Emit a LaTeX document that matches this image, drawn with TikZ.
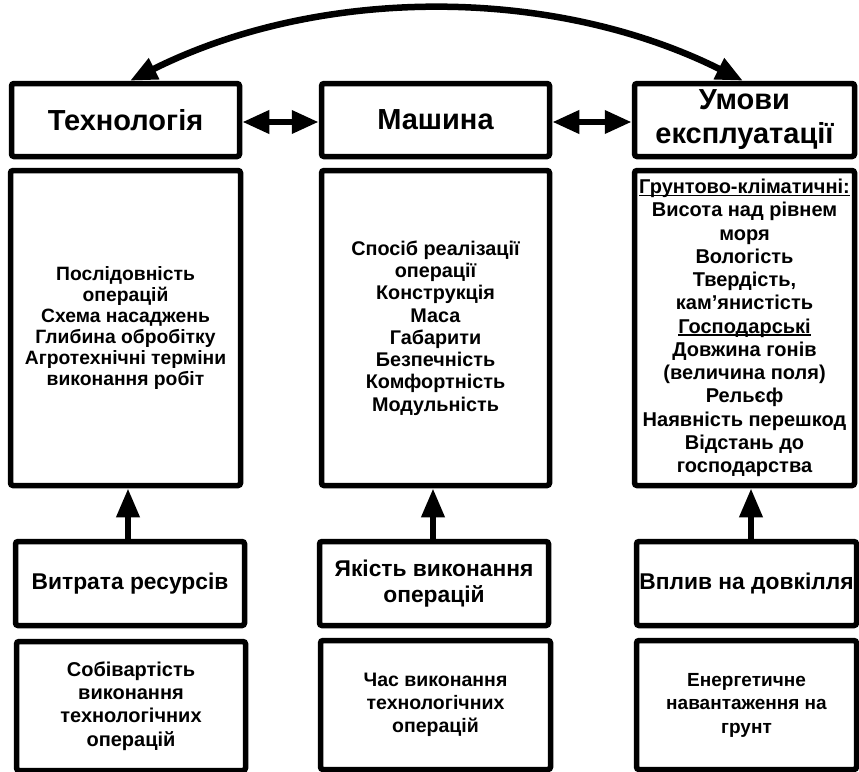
\documentclass[tikz,border=0pt]{standalone}
\usepackage{fontspec}
\setmainfont{Liberation Sans}
\usetikzlibrary{arrows.meta}
\newcommand\ulx[1]{\setbox0\hbox{#1}\rlap{\rule[-2.6pt]{\wd0}{1.5pt}}\box0}
\tikzset{
  box/.style={draw=black, line width=5.5pt, rounded corners=2.5pt, fill=white, align=center, inner sep=0pt},
  ttl/.style={box, font=\fontsize{29}{34}\selectfont\bfseries},
  bodyL/.style={box, font=\fontsize{19.3}{20.9}\selectfont\bfseries},
  bodyM/.style={box, font=\fontsize{19.8}{22.3}\selectfont\bfseries},
  bodyR/.style={box, font=\fontsize{20}{23.25}\selectfont\bfseries},
  mid/.style={box, font=\fontsize{22.8}{26}\selectfont\bfseries},
  arr/.style={line width=6.5pt, -{Triangle[length=29pt,width=22pt]}},
  darr/.style={line width=6.5pt, {Triangle[length=27pt,width=22pt]}-{Triangle[length=27pt,width=22pt]}}
}
\begin{document}
\begin{tikzpicture}[x=1pt,y=-1pt]
\useasboundingbox (0,0) rectangle (859,771);
% top row
\node[ttl, minimum width=228pt, minimum height=73pt] (t1) at (125.5,120) {Технологія};
\node[ttl, minimum width=228pt, minimum height=73pt] (t2) at (435.5,120) {Машина};
\node[ttl, minimum width=220pt, minimum height=73pt] (t3) at (744.5,120) {Умови\\експлуатації};
% middle row
\node[bodyL, minimum width=230pt, minimum height=315pt] (m1) at (125.5,328) {Послідовність\\операцій\\Схема насаджень\\Глибина обробітку\\Агротехнічні терміни\\виконання робіт};
\node[bodyM, minimum width=228pt, minimum height=315pt] (m2) at (435.5,328) {Спосіб реалізації\\операції\\Конструкція\\Маса\\Габарити\\Безпечність\\Комфортність\\Модульність};
\node[bodyR, minimum width=220pt, minimum height=315pt] (m3) at (744.5,328) {\ulx{Грунтово-кліматичні:}\\Висота над рівнем\\моря\\Вологість\\Твердість,\\кам’янистість\\\ulx{Господарські}\\Довжина гонів\\(величина поля)\\Рельєф\\Наявність перешкод\\Відстань до\\господарства};
% third row
\node[mid, minimum width=229pt, minimum height=84pt] (b1) at (130,583.5) {Витрата ресурсів};
\node[mid, minimum width=229pt, minimum height=84pt] (b2) at (434,583.5) {Якість виконання\\операцій};
\node[mid, minimum width=220pt, minimum height=84pt] (b3) at (746.5,583.5) {Вплив на довкілля};
% fourth row
\node[box, font=\fontsize{20}{23.3}\selectfont\bfseries, minimum width=229pt, minimum height=129pt] (c1) at (131,706) {Собівартість\\виконання\\технологічних\\операцій};
\node[box, font=\fontsize{19.5}{23.3}\selectfont\bfseries, minimum width=230pt, minimum height=129pt] (c2) at (435.5,705) {Час виконання\\технологічних\\операцій};
\node[box, font=\fontsize{19}{23.5}\selectfont\bfseries, minimum width=220pt, minimum height=129pt] (c3) at (746.5,705) {Енергетичне\\навантаження на\\грунт};
% arrows
\draw[arr] ([xshift=-2pt]b1.north) -- ([xshift=-2pt]b1.north |- m1.south);
\draw[arr] ([xshift=-1pt]b2.north) -- ([xshift=-1pt]b2.north |- m2.south);
\draw[arr] ([xshift=4.5pt]b3.north) -- ([xshift=4.5pt]b3.north |- m3.south);
\draw[darr] ([yshift=-2pt]t1.east) -- ([yshift=-2pt]t2.west);
\draw[darr] ([yshift=-2pt]t2.east) -- ([yshift=-2pt]t3.west);
\draw[darr] ([xshift=4.5pt]t1.north) .. controls +(190,-95) and +(-190,-95) .. ([xshift=-1.5pt]t3.north);
\end{tikzpicture}
\end{document}
